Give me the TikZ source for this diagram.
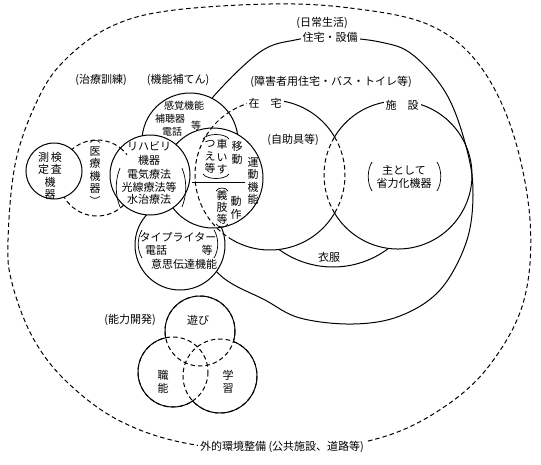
\documentclass[tikz,border=0pt]{standalone}
\usepackage{fontspec}
\setmainfont{Noto Sans CJK JP}
\begin{document}
\begin{tikzpicture}[x=1pt, y=-1pt, line width=1pt,
    dashln/.style={dash pattern=on 4.5pt off 3pt},
    disk/.style={draw, fill=white},
    brk/.style={line width=0.7pt},
    lbl/.style={inner sep=1pt, align=center, font=\fontsize{11}{12.5}\selectfont},
    sml/.style={lbl, font=\fontsize{10}{12}\selectfont},
    onln/.style={lbl, fill=white, inner xsep=2pt}]
\useasboundingbox (0,0) rectangle (541,464);

% outer boundary
\draw[dashln] plot[smooth cycle, tension=0.6] coordinates {(270,4) (350,8) (427,24) (477,62) (512,130) (530,220) (524,300) (492,362) (447,405) (383,437) (290,452) (190,444) (120,421) (67,382) (33,338) (12,283) (8,240) (16,160) (40,95) (67,58) (110,27) (167,11)};

% daily life
\draw plot[smooth cycle, tension=0.6] coordinates {(330,37) (380,42) (413,55) (447,95) (467,150) (473,195) (466,243) (440,290) (400,316) (353,324) (300,318) (265,300) (220,275) (190,230) (182,180) (192,130) (213,97) (260,52) (295,40)};

% home and facility
\draw (270,175) ++(-90:75) arc[start angle=-90, end angle=-30.5, radius=75];
\draw[dashln] (270,175) ++(-30.5:75) arc[start angle=-30.5, end angle=30.5, radius=75];
\draw (270,175) ++(30.5:75) arc[start angle=30.5, end angle=120, radius=75];
\draw (398,175) ++(-149:74) arc[start angle=-149, end angle=149, radius=74];
\draw[dashln] (398,175) ++(149:74) arc[start angle=149, end angle=211, radius=74];
\draw (333,175) ++(53:92) arc[start angle=53, end angle=126, radius=92];

% functional aids
\draw[dashln] (97,178) circle (38);
\draw[disk] (190,141) circle (48);
\draw[disk] (180,245) circle (45);
\draw[disk] (213,178) circle (50);
\draw[disk] (54,171) circle (28);
\draw[disk] (150,175) circle (40);
\draw[dashln] (270,175) ++(120:75) arc[start angle=120, end angle=265, radius=75];
\draw[dashln] (97,178) ++(-52:38) arc[start angle=-52, end angle=-38, radius=38];
\draw (192,182) -- (245,182);

% brackets
\draw[brk] (120,168) .. controls (115,180) and (115,195) .. (120,207);
\draw[brk] (182,168) .. controls (187,180) and (187,195) .. (182,207);
\draw[brk] (142,230) .. controls (137,238) and (137,250) .. (142,258);
\draw[brk] (214,230) .. controls (219,238) and (219,250) .. (214,258);
\draw[brk] (372,162) .. controls (367,170) and (367,183) .. (372,191);
\draw[brk] (437,162) .. controls (442,170) and (442,183) .. (437,191);
\draw[brk] (203,139) .. controls (207,133) and (225,133) .. (229,139);
\draw[brk] (203,174) .. controls (207,180) and (225,180) .. (229,174);
\draw[brk] (216,191) .. controls (218,187) and (226,187) .. (228,191);
\draw[brk] (216,224) .. controls (218,228) and (226,228) .. (228,224);

% ability development
\draw[dashln] (200,331) circle (35) (173,372) circle (35) (220,376) circle (37);
\begin{scope}[even odd rule]
  \clip (0,0) rectangle (541,464) (173,372) circle (35);
  \clip (0,0) rectangle (541,464) (220,376) circle (37);
  \draw (200,331) circle (35);
\end{scope}
\begin{scope}[even odd rule]
  \clip (0,0) rectangle (541,464) (200,331) circle (35);
  \clip (0,0) rectangle (541,464) (220,376) circle (37);
  \draw (173,372) circle (35);
\end{scope}
\begin{scope}[even odd rule]
  \clip (0,0) rectangle (541,464) (200,331) circle (35);
  \clip (0,0) rectangle (541,464) (173,372) circle (35);
  \draw (220,376) circle (37);
\end{scope}

% labels
\node[lbl] (nichijo) at (322,23) {(日常生活)};
\node[onln] (jutaku) at (330,37) {住宅・設備};
\node[lbl] (chiryo) at (101,80) {(治療訓練)};
\node[lbl] (hoten) at (178,80) {(機能補てん)};
\node[lbl] (shogai) at (331,82) {(障害者用住宅・バス・トイレ等)};
\node[onln] (zaitaku) at (265,103) {在　宅};
\node[onln] (shisetsu) at (402,105) {施　設};
\node[lbl] (jijo) at (293,140) {(自助具等)};
\node[lbl] (shoryoku) at (404,177) {主として\\省力化機器};
\node[lbl] (ifuku) at (329,257) {衣服};

\node[sml] (kankaku) at (184,106) {感覚機能};
\node[sml] (hochoki) at (170,119) {補聴器};
\node[sml] (kkto) at (196,126) {等};
\node[sml] (kkdenwa) at (172,132) {電話};

\node[lbl] (kensa) at (50,176) {測\,検\\定\,査\\機\\器};
\node[lbl] (iryo) at (95,173) {︵\\医\\療\\機\\器\\︶};

\node[lbl] (rihabiri) at (149,146) {リハビリ};
\node[lbl] (kiki) at (149,160) {機器};
\node[lbl] (ryoho) at (149,187) {電気療法\\光線療法等\\水治療法};

\node[lbl] (kurumaisu) at (222,157) {車\\い\\す};
\node[lbl] (tsue) at (210,157) {つ\\え\\等};
\node[lbl] (ido) at (237,153) {移\\動};
\node[lbl] (undo) at (253,181) {運\\動\\機\\能};
\node[lbl, font=\fontsize{11}{11.8}\selectfont] (gishi) at (222,207) {義\\肢\\等};
\node[lbl] (dosa) at (236,208) {動\\作};

\node[lbl] (typewriter) at (178,237) {タイプライター};
\node[lbl] (idenwa) at (156,250) {電話};
\node[lbl] (ito) at (207,250) {等};
\node[lbl] (ishi) at (184,264) {意思伝達機能};

\node[lbl] (noryoku) at (130,320) {(能力開発)};
\node[lbl] (asobi) at (198,320) {遊び};
\node[lbl] (shokuno) at (163,382) {職\\能};
\node[lbl] (gakushu) at (228,382) {学\\習};

\node[onln] (gaiteki) at (282,447) {外的環境整備 (公共施設、道路等)};
\end{tikzpicture}
\end{document}
